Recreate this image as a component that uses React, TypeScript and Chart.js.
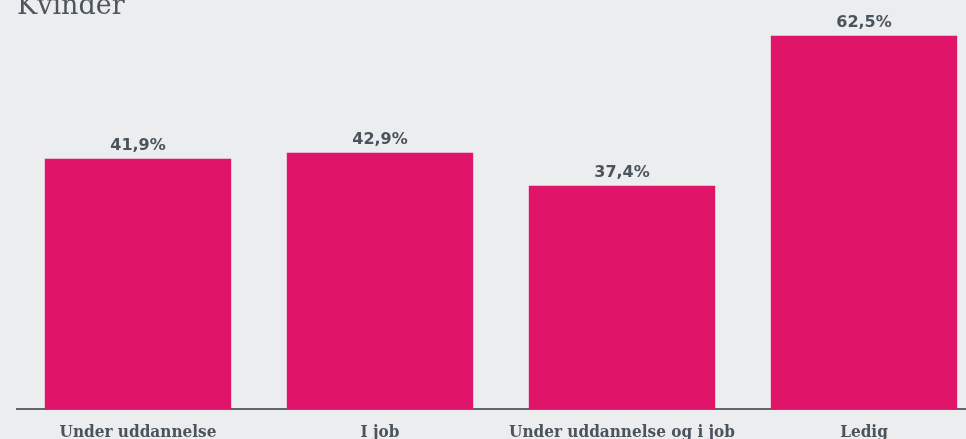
import React, { useEffect, useRef } from "react";
import { Chart, registerables } from "chart.js";

Chart.register(...registerables);

const title = "Kvinder";
const categories = ["Under uddannelse", "I job", "Under uddannelse og i job", "Ledig"];
const values = [41.9, 42.9, 37.4, 62.5];
const valueLabels = ["41,9%", "42,9%", "37,4%", "62,5%"];

const BG = "#ECEDEF";
const BAR = "#E0156A";
const TEXT = "#4A545C";

export default function App() {
  const ref = useRef<HTMLCanvasElement | null>(null);
  useEffect(() => {
    document.body.style.margin = "0";
    const canvas = ref.current!;
    const labelPlugin = {
      id: "labels",
      afterDraw(chart: any) {
        const ctx = chart.ctx;
        const meta = chart.getDatasetMeta(0);
        const xScale = chart.scales.x;
        ctx.save();
        ctx.fillStyle = TEXT;
        ctx.font = "bold 16px 'DejaVu Sans'";
        ctx.textAlign = "center";
        ctx.textBaseline = "alphabetic";
        meta.data.forEach((bar: any, i: number) => {
          ctx.fillText(valueLabels[i], bar.x, bar.y - 9);
        });
        ctx.font = "bold 17px 'DejaVu Serif Condensed', 'DejaVu Serif'";
        categories.forEach((c, i) => {
          ctx.fillText(c, xScale.getPixelForValue(i), chart.chartArea.bottom + 28);
        });
        ctx.font = "27px 'DejaVu Serif'";
        ctx.textAlign = "left";
        ctx.fillStyle = "#4D565E";
        ctx.fillText(title, 17, 14);
        ctx.restore();
      },
    };
    const chart = new Chart(canvas, {
      type: "bar",
      data: {
        labels: categories,
        datasets: [
          {
            data: values,
            backgroundColor: BAR,
            borderWidth: 0,
            barPercentage: 0.77,
            categoryPercentage: 1,
          },
        ],
      },
      options: {
        responsive: false,
        animation: false,
        maintainAspectRatio: false,
        layout: { padding: { left: 17, right: 0, top: 0, bottom: 30 } },
        plugins: { legend: { display: false }, tooltip: { enabled: false }, title: { display: false } },
        scales: {
          x: {
            grid: { display: false, drawTicks: false },
            border: { display: true, color: "#5F676E", width: 2 },
            ticks: { display: false },
          },
          y: {
            display: false,
            min: 0,
            max: 68.5,
          },
        },
      },
      plugins: [labelPlugin],
    });
    return () => chart.destroy();
  }, []);
  return (
    <div
      style={{
        position: "fixed",
        left: 0,
        top: 0,
        width: 966,
        height: 439,
        overflow: "hidden",
        background: BG,
      }}
    >
      <canvas ref={ref} width={985} height={439} style={{ display: "block" }} />
    </div>
  );
}
